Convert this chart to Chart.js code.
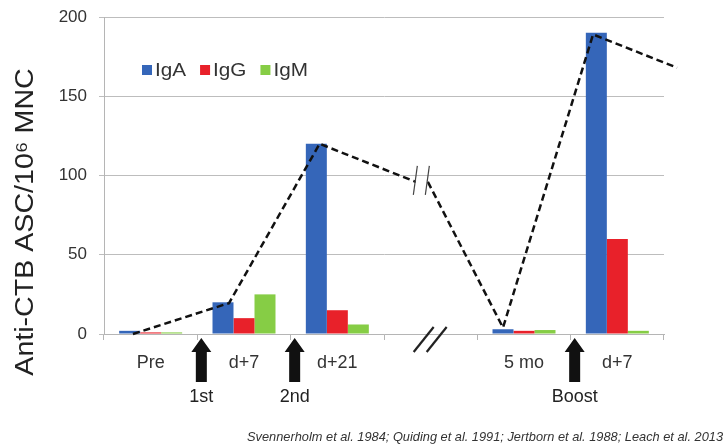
<!DOCTYPE html>
<html>
<head>
<meta charset="utf-8">
<script src="https://cdn.jsdelivr.net/npm/chart.js@4/dist/chart.umd.min.js"></script>
<style>
  html, body { margin: 0; padding: 0; background: #fff; }
  #wrap { width: 727px; height: 448px; }
</style>
</head>
<body>
<div id="wrap"><canvas id="chart"></canvas></div>
<script>
// data
var categories = ['Pre', 'd+7', 'd+21', '', '5 mo', 'd+7'];
var iga = [2, 20, 120, null, 3, 190];
var igg = [1, 10, 15, null, 2, 60];
var igm = [1, 25, 6, null, 2.5, 2];
// dashed trend line, x in category units (null = break)
var lineX = [-0.19, 0.84, 1.81, 2.84, 2.9, 2.97, 3.775, 4.74, 5.64];
var lineY = [0, 19.5, 120, 96, null, 96, 4, 189, 168];
var yTicks = [0, 50, 100, 150, 200];
// vaccinations: arrow after category index
var arrowAfter = [0, 1, 4];
var arrowLabels = ['1st', '2nd', 'Boost'];
var breakCat = 3;
var lineBreak = { x: 2.9, y: 96 };
var yTitle = 'Anti-CTB ASC/10\u2076 MNC';
var citation = 'Svennerholm et al. 1984; Quiding et al. 1991; Jertborn et al. 1988; Leach et al. 2013';

var FONT = '"Liberation Sans", Arial, sans-serif';
var colors = { IgA: '#3566b9', IgG: '#e8212a', IgM: '#86cd45' };

var linePts = [];
for (var i = 0; i < lineX.length; i++) {
    linePts.push({ x: lineX[i], y: lineY[i] });
}

var extras = {
    id: 'extras',
    afterDraw: function(chart) {
        var ctx = chart.ctx;
        var xs = chart.scales.x, ys = chart.scales.y;
        ctx.save();

        // y title, a little wider than plain Arial like the source
        ctx.save();
        ctx.translate(25, 222);
        ctx.rotate(-Math.PI / 2);
        ctx.scale(1.1, 1);
        ctx.font = '26px ' + FONT;
        ctx.fillStyle = '#222';
        ctx.textAlign = 'center';
        ctx.textBaseline = 'middle';
        ctx.fillText(yTitle, 0, 1);
        ctx.restore();

        // legend inside plot
        ctx.font = '18px ' + FONT;
        ctx.textBaseline = 'middle';
        ctx.textAlign = 'left';
        var lx = 142, ly = 70;
        chart.data.datasets.forEach(function(ds) {
            if (ds.type === 'line') return;
            ctx.fillStyle = ds.backgroundColor;
            ctx.fillRect(lx, ly - 5, 10, 10);
            ctx.fillStyle = '#333';
            ctx.save();
            ctx.translate(lx + 13, ly + 1);
            ctx.scale(1.15, 1);
            ctx.fillText(ds.label, 0, 0);
            ctx.restore();
            lx += 13 + ctx.measureText(ds.label).width * 1.15 + 14;
        });

        // break marks on the line
        var bx = xs.getPixelForValue(lineBreak.x);
        var by = ys.getPixelForValue(lineBreak.y);
        ctx.strokeStyle = '#444';
        ctx.lineWidth = 1.2;
        [-6, 6].forEach(function(o) {
            ctx.beginPath();
            ctx.moveTo(bx + o + 2, by - 16);
            ctx.lineTo(bx + o - 2, by + 13);
            ctx.stroke();
        });

        // break marks on the x axis
        var ax = xs.getPixelForValue(breakCat);
        var ay = ys.getPixelForValue(0);
        ctx.strokeStyle = '#222';
        ctx.lineWidth = 2.2;
        [-7, 6].forEach(function(o) {
            ctx.beginPath();
            ctx.moveTo(ax + o - 10, ay + 18);
            ctx.lineTo(ax + o + 10, ay - 7);
            ctx.stroke();
        });

        // vaccination arrows
        ctx.font = '18px ' + FONT;
        ctx.textAlign = 'center';
        arrowAfter.forEach(function(idx, k) {
            var cx = (xs.getPixelForValue(idx) + xs.getPixelForValue(idx + 1)) / 2 + 4;
            var top = ay + 4;
            ctx.fillStyle = '#111';
            ctx.beginPath();
            ctx.moveTo(cx, top);
            ctx.lineTo(cx + 10, top + 14);
            ctx.lineTo(cx + 5.5, top + 14);
            ctx.lineTo(cx + 5.5, top + 44);
            ctx.lineTo(cx - 5.5, top + 44);
            ctx.lineTo(cx - 5.5, top + 14);
            ctx.lineTo(cx - 10, top + 14);
            ctx.closePath();
            ctx.fill();
            ctx.fillStyle = '#222';
            ctx.fillText(arrowLabels[k], cx, top + 59);
        });

        // citation
        ctx.font = 'italic 12.8px ' + FONT;
        ctx.textAlign = 'right';
        ctx.fillStyle = '#333';
        ctx.fillText(citation, 723, 437);
        ctx.restore();
    }
};

new Chart(document.getElementById('chart'), {
    type: 'bar',
    data: {
        labels: categories,
        datasets: [
            { label: 'IgA', data: iga, backgroundColor: colors.IgA, order: 2 },
            { label: 'IgG', data: igg, backgroundColor: colors.IgG, order: 2 },
            { label: 'IgM', data: igm, backgroundColor: colors.IgM, order: 2 },
            // pre-parsed so the points can sit between categories
            { type: 'line', label: 'trend', data: linePts, parsing: false, borderColor: '#111', borderWidth: 2.5,
              borderDash: [7, 4], pointRadius: 0, fill: false, spanGaps: false, clip: false, tension: 0, order: 1 }
        ]
    },
    options: {
        responsive: true,
        maintainAspectRatio: false,
        animation: false,
        datasets: { bar: { categoryPercentage: 0.675, barPercentage: 1 } },
        layout: { padding: { top: 17, right: 63, left: 0, bottom: 0 } },
        plugins: { legend: { display: false }, tooltip: { enabled: false } },
        scales: {
            x: {
                type: 'category',
                offset: true,
                grid: { display: true, drawOnChartArea: false, drawTicks: true, tickLength: 6, color: '#b5b5b5', offset: true },
                border: { color: '#b5b5b5' },
                ticks: { color: '#333', font: { family: FONT, size: 18 }, padding: 12, maxRotation: 0 },
                afterFit: function(s) { s.height = 114; }
            },
            y: {
                min: 0,
                max: 200,
                afterBuildTicks: function(s) { s.ticks = yTicks.map(function(v) { return { value: v }; }); },
                grid: { color: '#bdbdbd', tickLength: 5 },
                border: { display: true, color: '#b5b5b5' },
                ticks: { color: '#333', font: { family: FONT, size: 17 }, padding: 12 },
                afterFit: function(s) { s.width = 104; s.paddingTop = 0; s.paddingBottom = 0; }
            }
        }
    },
    plugins: [extras]
});
</script>
</body>
</html>
